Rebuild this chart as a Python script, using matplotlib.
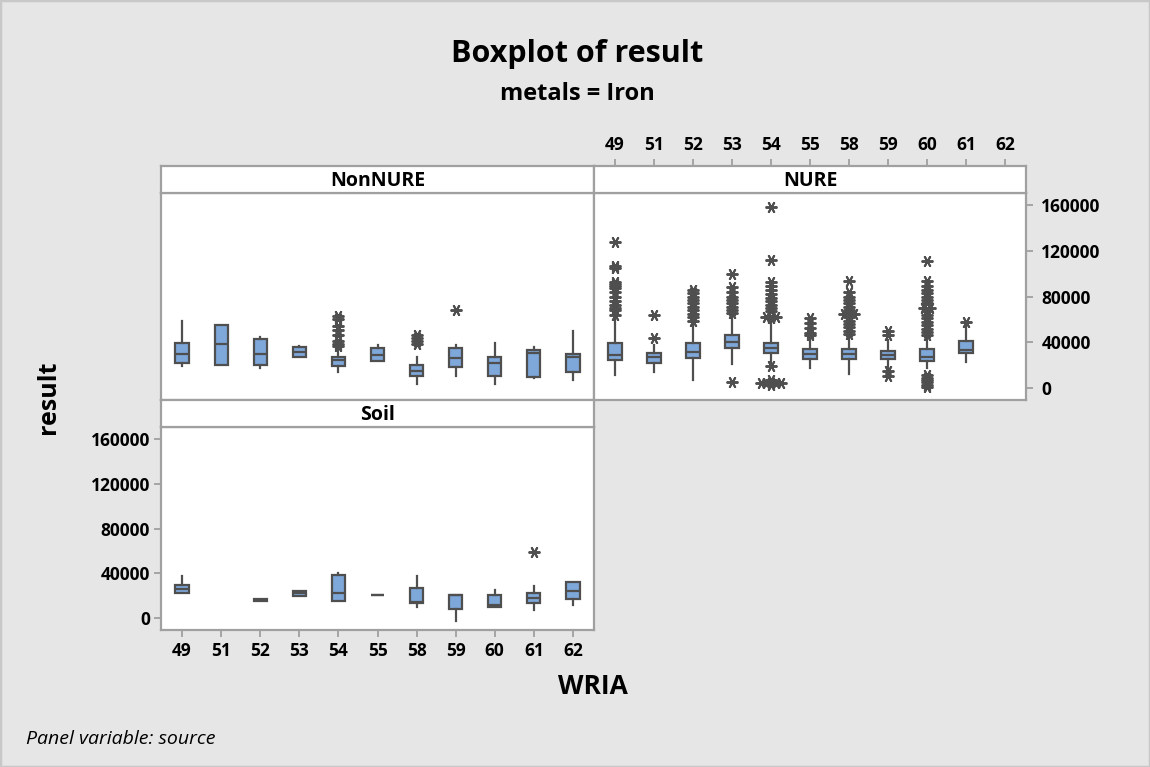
import matplotlib
matplotlib.use("Agg")
import matplotlib.pyplot as plt
from matplotlib.patches import Rectangle
from collections import Counter

plt.rcParams["font.family"] = ["Open Sans", "DejaVu Sans"]

# ---- data ---------------------------------------------------------------
wria = ["49", "51", "52", "53", "54", "55", "58", "59", "60", "61", "62"]
y_ticks = [0, 40000, 80000, 120000, 160000]

# NonNURE
nonnure_whislo = [19200, None, 17500, 26900, 14000, 23800, 3500, 10500, 3500, 8700, 7000]
nonnure_q1 = [22100, 20300, 20300, 27300, 18900, 23800, 10500, 18600, 10500, 9900, 13600]
nonnure_med = [29300, 38100, 29300, 31700, 24700, 28800, 15100, 26200, 22100, 30200, 27100]
nonnure_q3 = [39600, 55300, 43100, 36100, 27300, 34600, 20300, 34600, 27300, 32800, 29300]
nonnure_whishi = [58800, None, 44200, 36500, 34600, 37600, 27100, 37600, 39000, 35500, 49800]
nonnure_out = {
    "54": [63000, 60000, 54000, 50300, 46000, 40700, 38700, 36300],
    "58": [46500, 43300, 40700, 38500],
    "59": [67800],
}

# NURE
nure_whislo = [11000, 14000, 7000, 21000, 20300, 17500, 12200, 17500, 17500, 22400, None]
nure_q1 = [24400, 22100, 26200, 34900, 30800, 25600, 25600, 25600, 23800, 30800, None]
nure_med = [29100, 26800, 31100, 40200, 34900, 30000, 30000, 29100, 26800, 33400, None]
nure_q3 = [39600, 30800, 39600, 46600, 39600, 34300, 34300, 32600, 34300, 41300, None]
nure_whishi = [62000, 37800, 55300, 62000, 58200, 43700, 43700, 42200, 43700, 55500, None]
nure_out = {
    "49": [128000, 106800, 104800, 93000, 91000, 89000, 87000, 84000, 80000,
           76000, 73000, 70000, 68000, 64000],
    "51": [64000, 43700],
    "52": [86000, 83000, 80000, 77000, 74000, 71000, 68000, 65000, 62000, 59000],
    "53": [99600, 88000, 84000, 80000, 77000, 74000, 71000, 68000, 66000, 4900],
    "54": [158600, 111500, 93100, 89000, 86000, 82000, 79000, 76000, 73000, 70000,
           67000, 62500, 62500, 62500, 61000, 18900, 7000,
           4500, 4500, 4500, 4500, 4500, 3000],
    "55": [61100, 56800, 52400, 48000, 46500],
    "58": [93700, 84000, 80000, 77000, 74000, 71000, 68000, 64600, 64600, 64600,
           62000, 59000, 56000, 53000, 50000, 47000],
    "59": [49400, 46500, 14500, 10100],
    "60": [111200, 93700, 89000, 86000, 83000, 80000, 77000, 74000, 69900, 69900,
           67000, 64000, 61000, 58000, 55000, 52000, 49000, 46500,
           11600, 9000, 7000, 5000, 3000, 1000],
    "61": [57600],
}

# Soil
soil_whislo = [22400, None, 15300, 20100, 15100, 20300, 10100, -2100, 9900, 7000, 12200]
soil_q1 = [22400, None, 15300, 20100, 15100, 20300, 13400, 8100, 9900, 14000, 16900]
soil_med = [25900, None, 16300, 22100, 22400, 20300, 14800, 20300, 11600, 17700, 24700]
soil_q3 = [29700, None, 17200, 24100, 38400, 20300, 27300, 20300, 20300, 22400, 32600]
soil_whishi = [37800, None, 17200, 24100, 40700, 20300, 37800, 20300, 25300, 28800, 32600]
soil_out = {"61": [58800]}

# ---- style --------------------------------------------------------------
BG = "#E6E6E6"
FRAME = "#A0A0A0"
INK = "#4F4F4F"
BOX_FILL = "#7EA7DA"
W, H = 1150, 767
XLIM = (-0.54, len(wria) - 0.46)
YLIM = (-10500, 170500)
TICK_FONT = dict(fontsize=12.5, fontweight="bold")

fig = plt.figure(figsize=(W / 100, H / 100), dpi=100, facecolor=BG)
fig.patches.append(Rectangle((0, 0), 1, 1, transform=fig.transFigure,
                             fill=False, edgecolor="#C8C8C8", linewidth=2.5))


def rect(x0, y0, x1, y1):
    return [x0 / W, 1 - y1 / H, (x1 - x0) / W, (y1 - y0) / H]


def style_frame(ax):
    ax.set_facecolor("white")
    for s in ax.spines.values():
        s.set_color(FRAME)
        s.set_linewidth(1.6)
    ax.tick_params(which="both", direction="out", length=5, width=1.3,
                   color=FRAME, pad=3)


def strip(box, label):
    sax = fig.add_axes(rect(*box))
    sax.set_xlim(XLIM)
    sax.set_yticks([])
    sax.set_xticks([])
    style_frame(sax)
    sax.text(0.5, 0.45, label, transform=sax.transAxes, ha="center", va="center",
             fontsize=14, fontweight="bold", color="black")
    return sax


def draw_panel(ax, whislo, q1, med, q3, whishi, outliers):
    stats, pos = [], []
    for i, cat in enumerate(wria):
        if med[i] is None:
            continue
        lo = whislo[i] if whislo[i] is not None else q1[i]
        hi = whishi[i] if whishi[i] is not None else q3[i]
        stats.append(dict(whislo=lo, q1=q1[i], med=med[i], q3=q3[i],
                          whishi=hi, fliers=[]))
        pos.append(i)
    ax.bxp(stats, positions=pos, widths=0.34, patch_artist=True,
           showcaps=False, showfliers=False,
           boxprops=dict(facecolor=BOX_FILL, edgecolor=INK, linewidth=1.6),
           whiskerprops=dict(color=INK, linewidth=1.6),
           medianprops=dict(color=INK, linewidth=1.6))
    # outliers; tied values are set side by side
    for cat, vals in outliers.items():
        i = wria.index(cat)
        counts = Counter(vals)
        for v, n in counts.items():
            for k in range(n):
                dx = (k - (n - 1) / 2) * 0.13
                ax.plot(i + dx, v, linestyle="none", marker=(6, 2, 90),
                        markersize=8.5, markeredgewidth=1.4, color=INK,
                        zorder=4)
    ax.set_xlim(XLIM)
    ax.set_ylim(YLIM)


# NonNURE panel
ax_nn = fig.add_axes(rect(161, 193, 594, 400))
draw_panel(ax_nn, nonnure_whislo, nonnure_q1, nonnure_med, nonnure_q3,
           nonnure_whishi, nonnure_out)
ax_nn.set_xticks([])
ax_nn.set_yticks([])
style_frame(ax_nn)
strip((161, 166, 594, 193), "NonNURE")

# NURE panel
ax_nu = fig.add_axes(rect(594, 193, 1026, 400))
draw_panel(ax_nu, nure_whislo, nure_q1, nure_med, nure_q3, nure_whishi, nure_out)
ax_nu.set_xticks([])
ax_nu.yaxis.tick_right()
ax_nu.set_yticks(y_ticks)
ax_nu.set_yticklabels([str(t) for t in y_ticks], **TICK_FONT)
style_frame(ax_nu)
ax_nu.tick_params(axis="y", pad=6)
s_nu = strip((594, 166, 1026, 193), "NURE")
s_nu.xaxis.tick_top()
s_nu.set_xticks(range(len(wria)))
s_nu.set_xticklabels(wria, **TICK_FONT)
style_frame(s_nu)
s_nu.tick_params(axis="x", pad=4)

# Soil panel
ax_so = fig.add_axes(rect(161, 427, 594, 630))
draw_panel(ax_so, soil_whislo, soil_q1, soil_med, soil_q3, soil_whishi, soil_out)
ax_so.set_xticks(range(len(wria)))
ax_so.set_xticklabels(wria, **TICK_FONT)
ax_so.set_yticks(y_ticks)
ax_so.set_yticklabels([str(t) for t in y_ticks], **TICK_FONT)
style_frame(ax_so)
ax_so.tick_params(axis="x", pad=4)
strip((161, 400, 594, 427), "Soil")

# titles and labels
fig.text(577 / W, 1 - 62 / H, "Boxplot of result", ha="center", va="baseline",
         fontsize=22, fontweight="bold")
fig.text(577 / W, 1 - 100 / H, "metals = Iron", ha="center", va="baseline",
         fontsize=17, fontweight="bold")
fig.text(48 / W, 1 - 397 / H, "result", rotation=90, ha="center", va="center",
         fontsize=18, fontweight="bold")
fig.text(593 / W, 1 - 694 / H, "WRIA", ha="center", va="baseline",
         fontsize=19, fontweight="bold")
fig.text(26 / W, 1 - 744 / H, "Panel variable: source", ha="left", va="baseline",
         fontsize=14, style="italic")

fig.savefig("out.png", dpi=100, facecolor=BG)
